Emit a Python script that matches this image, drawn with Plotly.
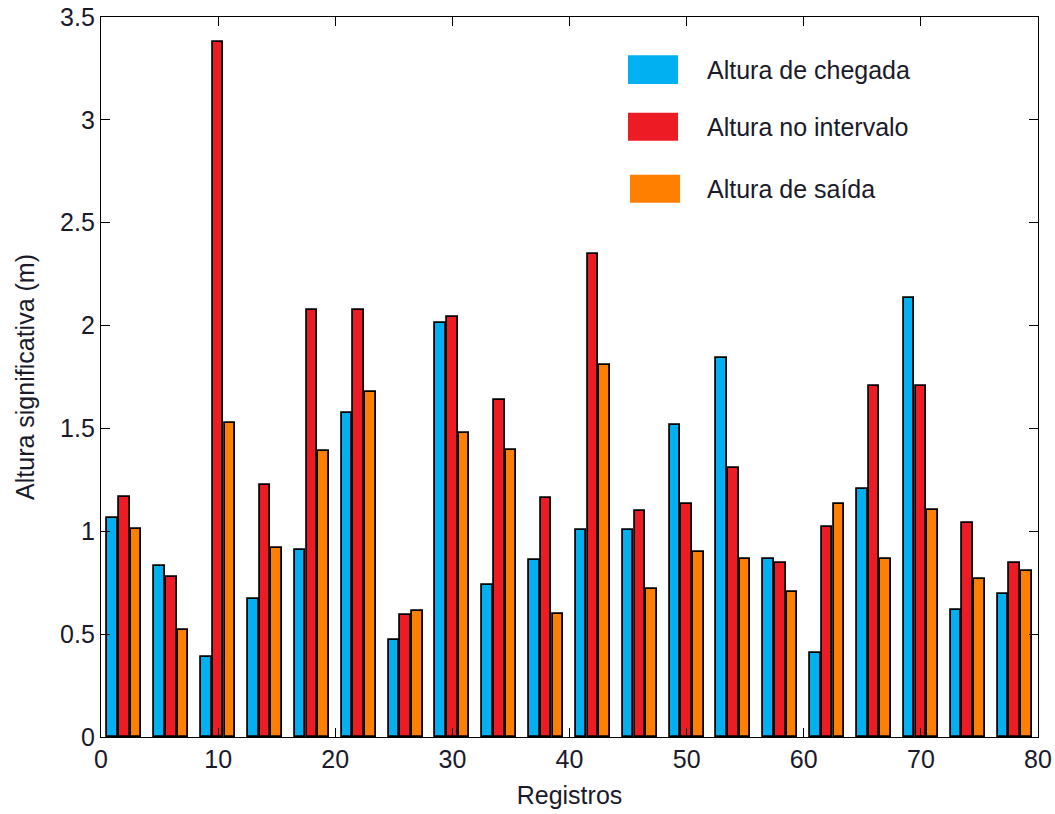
import plotly.graph_objects as go

# Significant wave height per record group: arrival, interval, departure
grupos = list(range(20))
altura_chegada = [1.065, 0.83, 0.388, 0.673, 0.91, 1.576, 0.471, 2.012, 0.739, 0.861,
                  1.007, 1.007, 1.516, 1.841, 0.867, 0.408, 1.207, 2.136, 0.615, 0.696]
altura_intervalo = [1.165, 0.777, 3.38, 1.227, 2.076, 2.076, 0.593, 2.043, 1.64, 1.16,
                    2.35, 1.097, 1.133, 1.307, 0.848, 1.023, 1.706, 1.706, 1.042, 0.848]
altura_saida = [1.01, 0.52, 1.524, 0.919, 1.392, 1.677, 0.614, 1.477, 1.397, 0.597,
                1.807, 0.718, 0.9, 0.867, 0.706, 1.133, 0.867, 1.104, 0.767, 0.809]

series_nomes = ["Altura de chegada", "Altura no intervalo", "Altura de saída"]
series_valores = [altura_chegada, altura_intervalo, altura_saida]
series_cores = ["#00B0F0", "#ED1C24", "#FF7F00"]

x_ticks = [0, 10, 20, 30, 40, 50, 60, 70, 80]
y_ticks = [0, 0.5, 1, 1.5, 2, 2.5, 3, 3.5]
y_tick_text = ["0", "0.5", "1", "1.5", "2", "2.5", "3", "3.5"]

FS = 25
TXT = "#1a1a2a"

fig = go.Figure()
for i, (nome, vals, cor) in enumerate(zip(series_nomes, series_valores, series_cores)):
    xs = [4 * g + 1 + i for g in grupos]
    fig.add_trace(go.Bar(
        x=xs, y=vals, name=nome, width=0.9,
        marker=dict(color=cor, line=dict(color="black", width=1.8)),
        showlegend=False,
    ))

# Legend drawn as large swatches with labels (paper coordinates)
leg_boxes = [(0.5624, 0.6158, 0.907, 0.947),
             (0.5624, 0.6158, 0.828, 0.867),
             (0.5645, 0.6180, 0.742, 0.781)]
for nome, cor, (x0, x1, y0, y1) in zip(series_nomes, series_cores, leg_boxes):
    fig.add_shape(type="rect", xref="paper", yref="paper",
                  x0=x0, x1=x1, y0=y0, y1=y1,
                  fillcolor=cor, line=dict(width=0))
    fig.add_annotation(xref="paper", yref="paper", x=0.645, y=(y0 + y1) / 2,
                       text=nome, showarrow=False, xanchor="left", yanchor="middle",
                       font=dict(size=FS, color=TXT))

axis_common = dict(
    showline=True, linecolor="black", linewidth=1.3, mirror="ticks",
    ticks="inside", ticklen=9, tickwidth=1.3, tickcolor="black",
    showgrid=False, zeroline=False, automargin=False,
    tickfont=dict(size=FS, color=TXT),
)

fig.update_xaxes(range=[0, 80], tickvals=x_ticks,
                 title=dict(text="Registros", font=dict(size=FS, color=TXT), standoff=14),
                 **axis_common)
fig.update_yaxes(range=[0, 3.5], tickvals=y_ticks, ticktext=y_tick_text,
                 title=dict(text="Altura significativa (m)", font=dict(size=FS, color=TXT), standoff=18),
                 **axis_common)

fig.update_layout(
    width=1055, height=814,
    margin=dict(l=101, r=17, t=17, b=77),
    plot_bgcolor="white", paper_bgcolor="white",
    font=dict(family="Liberation Sans, Arial, sans-serif", color=TXT),
    barmode="overlay", bargap=0,
)

fig.write_html("out.html")
